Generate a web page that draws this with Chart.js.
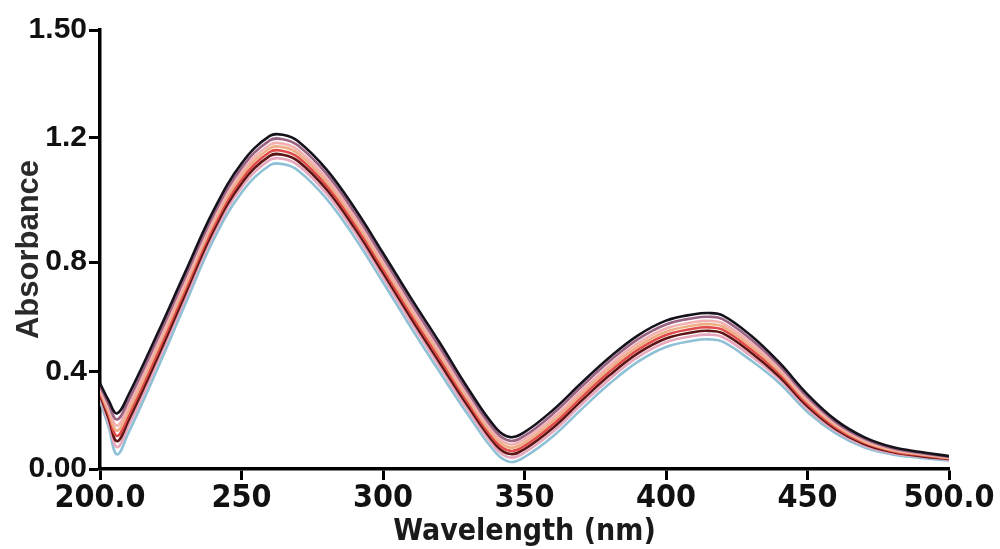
<!DOCTYPE html>
<html>
<head>
<meta charset="utf-8">
<script src="https://cdn.jsdelivr.net/npm/chart.js@4"></script>
<style>
  html, body { margin: 0; padding: 0; background: #fff; }
  #wrap { width: 1000px; height: 549px; position: relative; }
</style>
</head>
<body>
<div id="wrap"><canvas id="spectra"></canvas></div>
<script>
// wavelengths (nm)
const wavelengths = [200, 203, 206, 210, 220, 230, 240, 250, 260, 265, 270, 280, 290, 300, 310, 320, 330, 340, 345, 350,
                     360, 370, 380, 390, 400, 410, 415, 420, 430, 440, 450, 460, 470, 480, 490, 500];

// absorbance traces, top to bottom
const trace1 = [0.293, 0.235, 0.190, 0.252, 0.456, 0.670, 0.881, 1.044, 1.138, 1.141, 1.120, 1.024, 0.891, 0.738, 0.582, 0.432, 0.276, 0.139, 0.109, 0.126,
                0.201, 0.293, 0.381, 0.456, 0.507, 0.529, 0.533, 0.525, 0.456, 0.364, 0.255, 0.167, 0.109, 0.075, 0.058, 0.044];
const trace2 = [0.284, 0.222, 0.169, 0.233, 0.438, 0.654, 0.866, 1.029, 1.123, 1.126, 1.105, 1.009, 0.876, 0.723, 0.567, 0.417, 0.263, 0.126, 0.096, 0.113,
                0.188, 0.280, 0.368, 0.443, 0.494, 0.516, 0.520, 0.512, 0.443, 0.354, 0.246, 0.160, 0.104, 0.071, 0.055, 0.042];
const trace3 = [0.275, 0.208, 0.148, 0.213, 0.420, 0.637, 0.851, 1.014, 1.108, 1.111, 1.090, 0.994, 0.861, 0.708, 0.552, 0.402, 0.249, 0.114, 0.084, 0.101,
                0.174, 0.266, 0.354, 0.429, 0.480, 0.502, 0.506, 0.498, 0.431, 0.343, 0.237, 0.154, 0.099, 0.068, 0.052, 0.040];
const trace4 = [0.268, 0.197, 0.131, 0.197, 0.406, 0.624, 0.839, 1.002, 1.096, 1.099, 1.078, 0.982, 0.849, 0.696, 0.540, 0.390, 0.238, 0.103, 0.073, 0.090,
                0.163, 0.255, 0.343, 0.418, 0.469, 0.491, 0.495, 0.487, 0.420, 0.335, 0.230, 0.148, 0.094, 0.064, 0.050, 0.038];
const trace5 = [0.260, 0.186, 0.113, 0.181, 0.390, 0.610, 0.826, 0.989, 1.083, 1.086, 1.065, 0.969, 0.836, 0.683, 0.527, 0.377, 0.227, 0.092, 0.062, 0.079,
                0.152, 0.244, 0.332, 0.407, 0.458, 0.480, 0.484, 0.476, 0.409, 0.326, 0.222, 0.142, 0.090, 0.061, 0.047, 0.036];
const trace6 = [0.252, 0.174, 0.095, 0.164, 0.374, 0.595, 0.813, 0.976, 1.070, 1.073, 1.052, 0.956, 0.823, 0.670, 0.514, 0.364, 0.215, 0.081, 0.051, 0.068,
                0.140, 0.232, 0.320, 0.395, 0.446, 0.468, 0.472, 0.464, 0.398, 0.316, 0.214, 0.136, 0.085, 0.058, 0.044, 0.034];
const trace7 = [0.244, 0.161, 0.075, 0.145, 0.358, 0.580, 0.799, 0.962, 1.056, 1.059, 1.038, 0.942, 0.809, 0.656, 0.500, 0.350, 0.202, 0.069, 0.039, 0.056,
                0.127, 0.219, 0.307, 0.382, 0.433, 0.455, 0.459, 0.451, 0.386, 0.307, 0.206, 0.130, 0.080, 0.054, 0.042, 0.032];
const trace8 = [0.233, 0.145, 0.050, 0.122, 0.336, 0.560, 0.781, 0.944, 1.038, 1.041, 1.020, 0.924, 0.791, 0.638, 0.482, 0.332, 0.186, 0.054, 0.024, 0.041,
                0.111, 0.203, 0.291, 0.366, 0.417, 0.439, 0.443, 0.435, 0.371, 0.294, 0.195, 0.122, 0.074, 0.050, 0.038, 0.029];

const traces = [trace1, trace2, trace3, trace4, trace5, trace6, trace7, trace8];
const traceColors = ['#15121c', '#9a6283', '#f2b0b0', '#eeae84', '#e04a48', '#5c1414', '#e6a6bc', '#8ec0d6'];

// axis ticks
const xTickValues = [200, 250, 300, 350, 400, 450, 500];
const xTickLabels = ['200.0', '250', '300', '350', '400', '450', '500.0'];
const yTickValues = [0, 0.333, 0.707, 1.133, 1.5];
const yTickLabels = ['0.00', '0.4', '0.8', '1.2', '1.50'];

const narrow = "'DejaVu Sans Condensed', 'Liberation Sans Narrow', sans-serif";

const datasets = traces.map((t, i) => ({
    label: 'trace ' + (i + 1),
    data: t.map((v, j) => ({ x: wavelengths[j], y: v })),
    borderColor: traceColors[i],
    borderWidth: 2.6,
    pointRadius: 0,
    fill: false,
    tension: 0.4
}));

new Chart(document.getElementById('spectra'), {
    type: 'line',
    data: { datasets: datasets },
    options: {
        responsive: true,
        maintainAspectRatio: false,
        animation: false,
        layout: { padding: { top: 30, right: 51, left: 0, bottom: 0 } },
        plugins: { legend: { display: false }, tooltip: { enabled: false } },
        scales: {
            x: {
                type: 'linear',
                min: 200,
                max: 500,
                afterBuildTicks: s => { s.ticks = xTickValues.map(v => ({ value: v })); },
                afterFit: s => { s.height = 80; },
                border: { display: true, color: '#000', width: 3.5 },
                grid: { display: true, drawOnChartArea: false, drawTicks: true, tickLength: 11, tickWidth: 3, color: '#000' },
                ticks: {
                    color: '#111',
                    padding: 3,
                    maxRotation: 0,
                    autoSkip: false,
                    font: { family: narrow, size: 32, weight: 'bold', lineHeight: 1 },
                    callback: (v, i) => xTickLabels[i]
                },
                title: {
                    display: true,
                    text: 'Wavelength (nm)',
                    color: '#1a1a1a',
                    padding: { top: 0, bottom: 2 },
                    font: { family: narrow, size: 30, weight: 'bold', lineHeight: 1 }
                }
            },
            y: {
                min: 0,
                max: 1.5,
                afterBuildTicks: s => { s.ticks = yTickValues.map(v => ({ value: v })); },
                afterFit: s => { s.width = 100; },
                border: { display: true, color: '#000', width: 3.5 },
                grid: { display: true, drawOnChartArea: false, drawTicks: true, tickLength: 11, tickWidth: 3, color: '#000' },
                ticks: {
                    color: '#111',
                    padding: 2,
                    autoSkip: false,
                    font: { family: "'Liberation Sans', Arial, sans-serif", size: 30, weight: 'bold' },
                    callback: (v, i) => yTickLabels[i]
                },
                title: {
                    display: true,
                    text: 'Absorbance',
                    color: '#2a2a2a',
                    padding: { top: 14, bottom: 0 },
                    font: { family: "'Liberation Sans', Arial, sans-serif", size: 31, weight: 'bold', lineHeight: 1 }
                }
            }
        }
    }
});
</script>
</body>
</html>
